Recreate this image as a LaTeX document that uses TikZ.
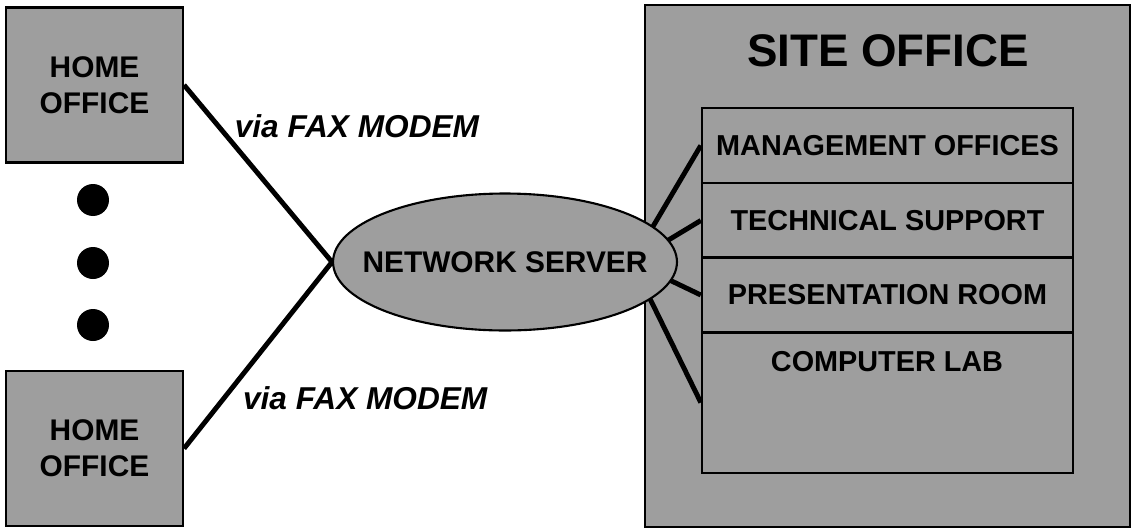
\documentclass[tikz,border=0pt]{standalone}
\usepackage{fontspec}
\setmainfont{Liberation Sans}
\usetikzlibrary{shapes.geometric}
\definecolor{halftone}{gray}{0.62}
\begin{document}
\begin{tikzpicture}[x=0.02cm, y=-0.02cm,
			office/.style={rectangle, fill=halftone, draw, line width=1.2pt, minimum width=3.54cm, minimum height=3.1cm, align=center, font=\fontsize{17}{20.5}\selectfont\bfseries},
			bullet/.style={circle, fill=black, minimum size=0.64cm, inner sep=0pt},
			server/.style={ellipse, fill=halftone, draw, line width=1.2pt, minimum width=6.88cm, minimum height=2.74cm, inner xsep=-12.5pt, inner ysep=0pt, font=\fontsize{17}{20}\selectfont\bfseries},
			room/.style={rectangle, draw, line width=1.4pt, minimum width=7.42cm, minimum height=1.5cm, font=\fontsize{16.4}{20}\selectfont\bfseries},
			link/.style={line width=2.8pt},
			via/.style={font=\fontsize{18}{20}\selectfont\bfseries\itshape, anchor=west, inner sep=0pt}]
			\useasboundingbox (0,0) rectangle (1132,531);
			\node[office] (home1) at (94.5,85) {HOME\\OFFICE};
			\node[office] (home2) at (94.5,448.5) {HOME\\OFFICE};
			\foreach \y [count=\i] in {200,263,325}
				\node[bullet] (dot\i) at (93,\y) {};
			\node[rectangle, fill=halftone, draw, line width=1.2pt, minimum width=9.7cm, minimum height=10.44cm] (site) at (887.5,266) {};
			\node[font=\fontsize{26}{30}\selectfont\bfseries] (title) at (888,51) {SITE OFFICE};
			\node[room] (mgmt) at (887.5,145.5) {MANAGEMENT OFFICES};
			\node[room] (tech) at (887.5,220.5) {TECHNICAL SUPPORT};
			\node[room] (pres) at (887.5,295) {PRESENTATION ROOM};
			\node[room, minimum height=2.82cm] (lab) at (887.5,402.5) {};
			\node[font=\fontsize{16.4}{20}\selectfont\bfseries] (labtext) at (887,362) {COMPUTER LAB};
			\coordinate (hub) at (632,262);
			\foreach \r in {mgmt,tech,pres,lab}
				\draw[link] (hub) -- (\r.west);
			\node[server] (server) at (505,262) {NETWORK SERVER};
			\draw[link] (home1.east) -- node[via, pos=0.232, xshift=0.28cm]{via FAX MODEM} (server.west);
			\draw[link] (home2.east) -- node[via, pos=0.271, xshift=0.33cm]{via FAX MODEM} (server.west);
		\end{tikzpicture}
\end{document}
